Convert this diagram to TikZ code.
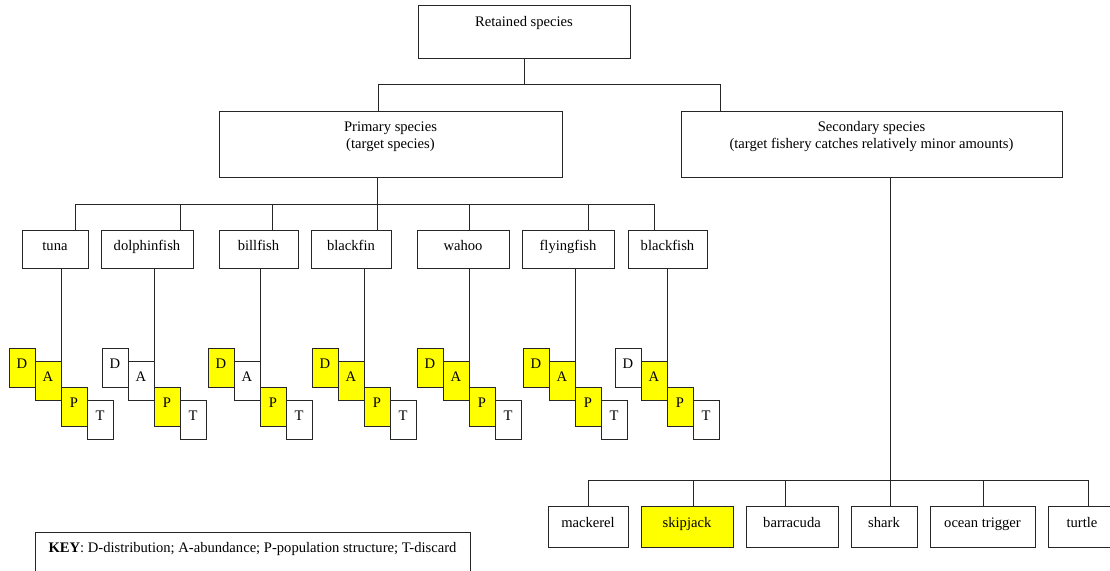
\documentclass[tikz,border=0pt]{standalone}
\usepackage{fontspec}
\setmainfont{Liberation Serif}
\usepackage{tikz}
\usetikzlibrary{positioning}
\definecolor{hl}{RGB}{255,255,0}

\begin{document}
\begin{tikzpicture}[
  x=0.5pt, y=-0.5pt,
  line width=0.5pt, draw=black!85,
  every node/.style={font=\fontsize{7.3}{8.4}\selectfont},
  box/.style={draw, inner sep=0pt},
  headbox/.style={box, minimum width=106pt, text height=10.7pt, text depth=15.8pt},
  groupbox/.style={box, align=center, text height=18.6pt, text depth=14.4pt},
  fishbox/.style={box, text height=10.2pt, text depth=8.8pt},
  letterbox/.style={box, minimum width=13pt, text height=10.4pt, text depth=9.1pt},
  catchbox/.style={box, text height=10.7pt, text depth=9.8pt},
  keybox/.style={box, minimum width=217.5pt, text height=10.4pt, text depth=18.6pt},
]
\useasboundingbox (0,0) rectangle (1110,570);
\clip (0,0) rectangle (1110,570);

% top of the tree
\node[headbox] (retained) at (524,31.5) {Retained species};
\node[groupbox, minimum width=171.5pt] (primary) at (390.5,144) {Primary species\\(target species)};
\node[groupbox, minimum width=190.5pt] (secondary) at (871.5,144) {Secondary species\\(target fishery catches relatively minor amounts)};

\coordinate (j0) at (524,84);
\draw (retained.south) -- (j0);
\draw (primary.north -| 378,0) |- (j0) -| (secondary.north -| 720,0);

% primary species
\node[fishbox, minimum width=33pt] (tuna) at (55,249) {tuna};
\node[fishbox, minimum width=46pt] (dolphinfish) at (147,249) {dolphinfish};
\node[fishbox, minimum width=39.5pt] (billfish) at (258.5,249) {billfish};
\node[fishbox, minimum width=40pt] (blackfin) at (351,249) {blackfin};
\node[fishbox, minimum width=46pt] (wahoo) at (463,249) {wahoo};
\node[fishbox, minimum width=46pt] (flyingfish) at (568,249) {flyingfish};
\node[fishbox, minimum width=39.5pt] (blackfish) at (667.5,249) {blackfish};

\coordinate (pbar) at (377,204);
\draw (primary.south -| pbar) -- (pbar |- blackfin.north);
\draw (tuna.north -| 75,0) |- (pbar) -| (blackfish.north -| 654,0);
\foreach \n/\x in {dolphinfish/180, billfish/272, wahoo/469, flyingfish/588}{
  \draw (\n.north -| \x,0) -- (pbar -| \x,0);
}

% D/A/P/T indicators under each species
\foreach \n/\L/\cd/\ca/\cp in {tuna/61/hl/hl/hl, dolphinfish/154/white/white/hl,
    billfish/260/hl/white/hl, blackfin/364/hl/hl/hl, wahoo/469/hl/hl/hl,
    flyingfish/575/hl/hl/hl, blackfish/667/white/hl/hl}{
  \node[letterbox, fill=\cd] (\n-D) at (\L-39,367.5) {D};
  \node[letterbox, fill=\ca] (\n-A) at (\L-13,380.5) {A};
  \node[letterbox, fill=\cp] (\n-P) at (\L+13,406.5) {P};
  \node[letterbox, fill=white] (\n-T) at (\L+39,419.5) {T};
  \draw (\n.south -| \n-A.north east) -- (\n-A.north east);
}

% secondary species
\node[catchbox, minimum width=40pt] (mackerel) at (588,526.5) {mackerel};
\node[catchbox, minimum width=46pt, fill=hl] (skipjack) at (687,526.5) {skipjack};
\node[catchbox, minimum width=46pt] (barracuda) at (792,526.5) {barracuda};
\node[catchbox, minimum width=33pt] (shark) at (884,526.5) {shark};
\node[catchbox, minimum width=52.5pt] (trigger) at (982.5,526.5) {ocean trigger};
\node[catchbox, minimum width=34pt] (turtle) at (1082,526.5) {turtle};

\coordinate (sbar) at (890,480);
\draw (secondary.south -| sbar) -- (sbar |- shark.north);
\draw (mackerel.north -| 588,0) |- (sbar) -| (turtle.north -| 1088,0);
\foreach \n/\x in {skipjack/693, barracuda/785, trigger/983}{
  \draw (\n.north -| \x,0) -- (sbar -| \x,0);
}

% key
\node[keybox] (key) at (252.5,561) {\textbf{KEY}: D-distribution; A-abundance; P-population structure; T-discard};
\end{tikzpicture}
\end{document}
